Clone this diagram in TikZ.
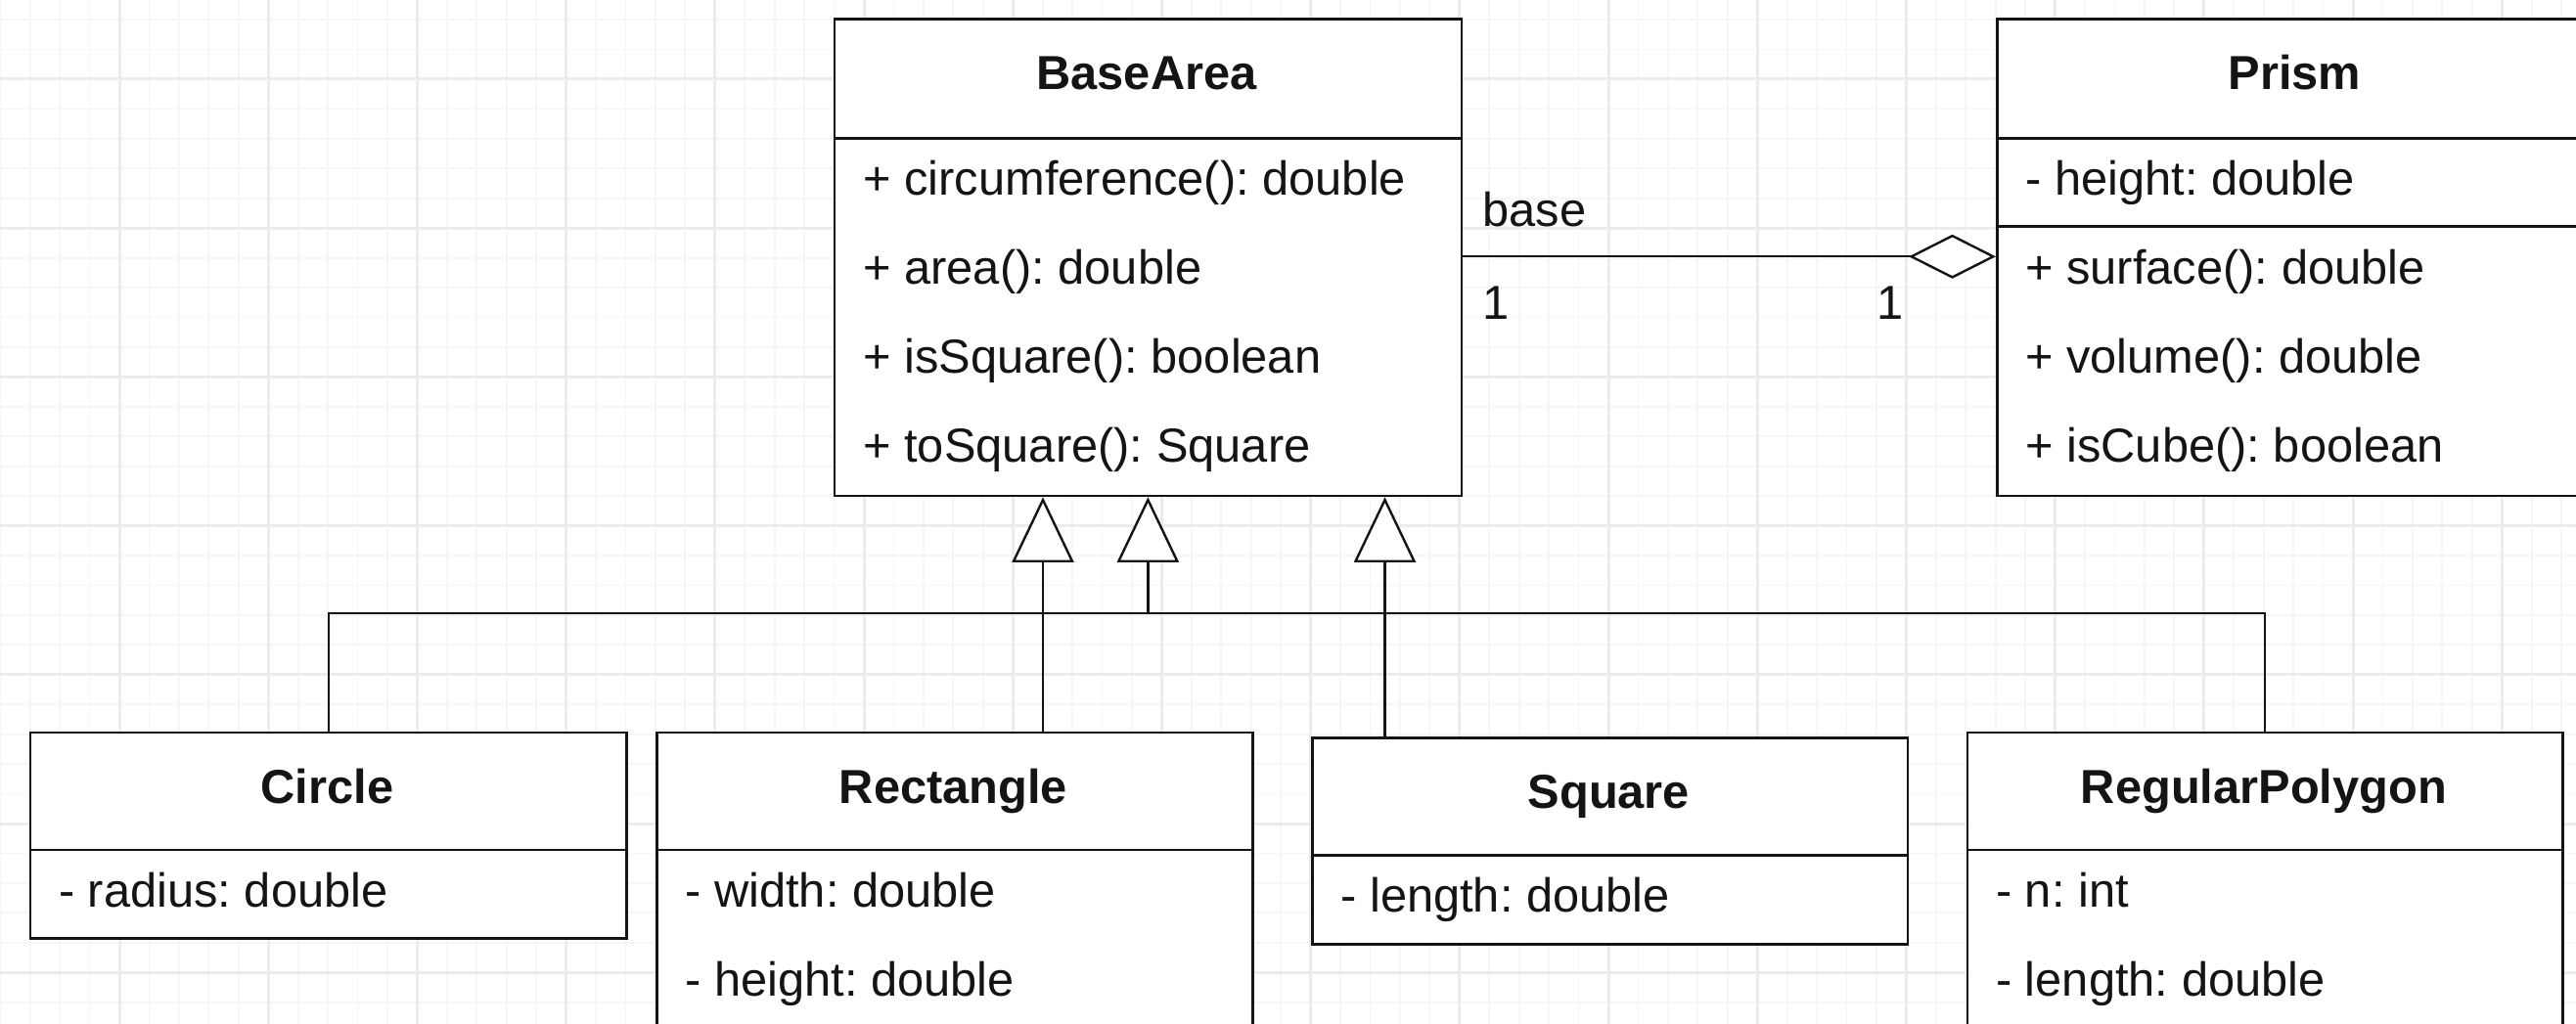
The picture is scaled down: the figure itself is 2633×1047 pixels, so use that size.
\documentclass[tikz,border=0pt]{standalone}
\usepackage{fontspec}
\setmainfont{Liberation Sans}
\usetikzlibrary{arrows.meta}
\definecolor{gridminor}{RGB}{246,246,246}
\definecolor{gridmajor}{RGB}{236,236,236}
\definecolor{ink}{RGB}{20,20,20}
\frenchspacing
\begin{document}
\begin{tikzpicture}[x=0.5pt,y=-0.5pt,
  box/.style={draw=ink, line width=1.3pt, fill=white, inner sep=0pt, anchor=north west},
  ttl/.style={font=\fontsize{24.4pt}{29pt}\selectfont\bfseries, anchor=base, inner sep=0pt, text=ink},
  txt/.style={font=\fontsize{24.4pt}{29pt}\selectfont, anchor=base west, inner sep=0pt, text=ink},
  conn/.style={line width=1.2pt, draw=ink},
  gen/.style={conn, -{Triangle[length=33.3pt,width=31.5pt,fill=white]}},
  agg/.style={conn, -{Diamond[length=44.5pt,width=22.5pt,fill=white]}},
  minorline/.style={draw=gridminor, line width=0.9pt},
  majorline/.style={draw=gridmajor, line width=1.5pt}
]
\useasboundingbox (0,0) rectangle (2633,1047);
\clip (0,0) rectangle (2633,1047);
\fill[white] (0,0) rectangle (2633,1047);
% grid
\foreach \i in {-4,...,84} \draw[minorline] ({122+30.44*\i},0) -- ({122+30.44*\i},1047);
\foreach \i in {-3,...,33} \draw[minorline] (0,{81+30.44*\i}) -- (2633,{81+30.44*\i});
\foreach \i in {-1,...,17} \draw[majorline] ({122+152.2*\i},0) -- ({122+152.2*\i},1047);
\foreach \i in {-1,...,7} \draw[majorline] (0,{81+152.2*\i}) -- (2633,{81+152.2*\i});

% class boxes
\node[box, minimum width=320.55pt, minimum height=60.85pt] (baHead) at (851.5,18.3) {};
\node[box, minimum width=320.55pt, minimum height=182.85pt] (baBody) at (851.5,140) {};
\node[box, minimum width=305.5pt, minimum height=60.85pt] (prHead) at (2040,18.3) {};
\node[box, minimum width=305.5pt, minimum height=45pt] (prAttr) at (2040,140) {};
\node[box, minimum width=305.5pt, minimum height=137.85pt] (prOps) at (2040,230) {};
\node[box, minimum width=304.6pt, minimum height=60pt] (ciHead) at (29.8,747.7) {};
\node[box, minimum width=304.6pt, minimum height=45.3pt] (ciBody) at (29.8,867.7) {};
\node[box, minimum width=304.5pt, minimum height=60pt] (reHead) at (670,747.7) {};
\node[box, minimum width=304.5pt, minimum height=100pt] (reBody) at (670,867.7) {};
\node[box, minimum width=304.35pt, minimum height=60pt] (sqHead) at (1340,753.3) {};
\node[box, minimum width=304.35pt, minimum height=45.5pt] (sqBody) at (1340,873.3) {};
\node[box, minimum width=304.1pt, minimum height=60pt] (poHead) at (2009.8,747.7) {};
\node[box, minimum width=304.1pt, minimum height=100pt] (poBody) at (2009.8,867.7) {};

% titles
\node[ttl] (baT) at (1172,91.5) {BaseArea};
\node[ttl] (prT) at (2345.5,91.5) {Prism};
\node[ttl] (ciT) at (334.4,821) {Circle};
\node[ttl] (reT) at (974.5,821) {Rectangle};
\node[ttl] (sqT) at (1644.35,826.5) {Square};
\node[ttl] (poT) at (2313.9,821) {RegularPolygon};

% members
\node[txt] (ba1) at (882,199.5) {+ circumference(): double};
\node[txt] (ba2) at (882,290.4) {+ area(): double};
\node[txt] (ba3) at (882,381.3) {+ isSquare(): boolean};
\node[txt] (ba4) at (882,472.2) {+ toSquare(): Square};
\node[txt] (pr1) at (2070,199.5) {- height: double};
\node[txt] (pr2) at (2070,290.4) {+ surface(): double};
\node[txt] (pr3) at (2070,381.3) {+ volume(): double};
\node[txt] (pr4) at (2070,472.2) {+ isCube(): boolean};
\node[txt] (ci1) at (59.8,927.2) {- radius: double};
\node[txt] (re1) at (700,927.2) {- width: double};
\node[txt] (re2) at (700,1018.1) {- height: double};
\node[txt] (sq1) at (1370,932.8) {- length: double};
\node[txt] (po1) at (2039.8,927.2) {- n: int};
\node[txt] (po2) at (2039.8,1018.1) {- length: double};

% association
\coordinate (assocY) at (0,262.3);
\draw[agg] (baBody.east |- assocY) -- (prOps.west |- assocY);
\node[txt] (lbase) at (1515,231.5) {base};
\node[txt] (lone1) at (1515,327) {1};
\node[txt] (lone2) at (1918,327) {1};

% generalizations
\coordinate (busY) at (0,626.7);
\coordinate (reX) at (1066,0);
\coordinate (sqX) at (1415.5,0);
\draw[conn] (ciHead.north) -- (ciHead.north |- busY) -- (poHead.north |- busY) -- (poHead.north);
\draw[gen] (baBody.south |- busY) -- (baBody.south);
\draw[gen] (reHead.north -| reX) -- (baBody.south -| reX);
\draw[gen] (sqHead.north -| sqX) -- (baBody.south -| sqX);
\end{tikzpicture}
\end{document}
